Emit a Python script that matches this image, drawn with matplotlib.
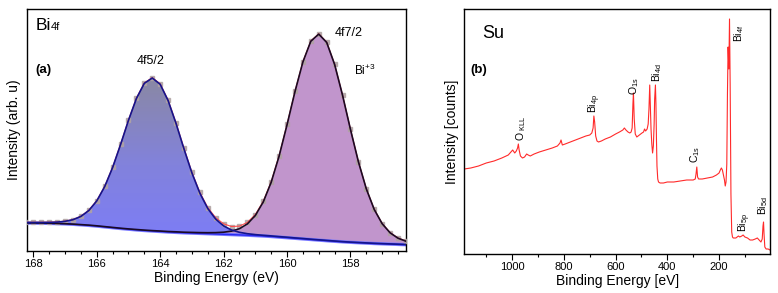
import numpy as np
import matplotlib
matplotlib.use("Agg")
import matplotlib.pyplot as plt
from matplotlib.colors import LinearSegmentedColormap
from matplotlib.ticker import MultipleLocator

plt.rcParams['font.family'] = ['Liberation Sans', 'DejaVu Sans']
plt.rcParams['mathtext.fontset'] = 'custom'
plt.rcParams['mathtext.rm'] = 'Liberation Sans'
plt.rcParams['mathtext.it'] = 'Liberation Sans:italic'
plt.rcParams['mathtext.bf'] = 'Liberation Sans:bold'
plt.rcParams['mathtext.default'] = 'regular'

# ---- (a) Bi 4f high resolution, 0.25 eV grid from 168.25 down to 156.25 eV
be_4f = [168.25, 168.0, 167.75, 167.5, 167.25, 167.0, 166.75, 166.5, 166.25, 166.0,
         165.75, 165.5, 165.25, 165.0, 164.75, 164.5, 164.25, 164.0, 163.75, 163.5,
         163.25, 163.0, 162.75, 162.5, 162.25, 162.0, 161.75, 161.5, 161.25, 161.0,
         160.75, 160.5, 160.25, 160.0, 159.75, 159.5, 159.25, 159.0, 158.75, 158.5,
         158.25, 158.0, 157.75, 157.5, 157.25, 157.0, 156.75, 156.5, 156.25]
shirley_bg = [28.0, 27.9, 27.8, 27.6, 27.4, 27.1, 26.7, 26.2, 25.6, 24.9,
              24.1, 23.3, 22.5, 21.8, 21.1, 20.5, 20.0, 19.5, 19.0, 18.6,
              18.2, 17.9, 17.6, 17.3, 17.0, 16.7, 16.4, 16.1, 15.8, 15.4,
              15.0, 14.5, 13.9, 13.3, 12.7, 12.1, 11.5, 10.9, 10.3, 9.7,
              9.2, 8.7, 8.3, 7.9, 7.5, 7.2, 6.9, 6.6, 6.3]
peak_4f52 = [0.5, 0.6, 0.7, 1.0, 1.5, 2.6, 4.6, 8.4, 14.9, 25.2,
             40.3, 60.2, 83.9, 108.9, 131.4, 147.2, 153.0, 147.2, 131.4, 108.9,
             83.9, 60.2, 40.3, 25.2, 14.9, 8.4, 4.6, 2.6, 1.5, 1.0,
             0.7, 0.6, 0.5, 0.5, 0.4, 0.4, 0.3, 0.3, 0.3, 0.3,
             0.2, 0.2, 0.2, 0.2, 0.2, 0.2, 0.2, 0.2, 0.2]
peak_4f72 = [0.2, 0.2, 0.2, 0.2, 0.2, 0.2, 0.2, 0.2, 0.3, 0.3,
             0.3, 0.3, 0.3, 0.3, 0.4, 0.4, 0.4, 0.5, 0.5, 0.6,
             0.6, 0.7, 0.8, 1.0, 1.4, 2.1, 3.5, 6.2, 11.3, 20.1,
             34.0, 54.2, 81.0, 112.9, 146.6, 176.9, 198.3, 206.0, 198.3, 176.9,
             146.6, 112.9, 81.0, 54.2, 34.0, 20.1, 11.3, 6.2, 3.5]

# ---- (b) survey spectrum
be_survey = [1185, 1160, 1130, 1100, 1070, 1040, 1015, 1005, 998, 990, 984, 979, 976, 973,
             968, 960, 952, 944, 938, 930, 915, 895, 870, 845, 825, 815, 811, 806, 795,
             775, 755, 735, 715, 700, 692, 687, 684, 681, 677, 672, 666, 655, 640, 620,
             600, 585, 572, 566, 560, 552, 545, 540, 536, 533, 531, 528, 524, 518, 508,
             498, 492, 488, 484, 478, 474, 471, 468, 466, 463, 460, 457, 454, 451, 449,
             446, 444, 442, 440, 437, 434, 428, 415, 400, 375, 350, 325, 300, 292, 289,
             286, 283, 279, 265, 245, 225, 210, 200, 195, 191, 187, 183, 179, 176, 173,
             170, 167.5, 165, 162, 159.5, 157, 154, 151, 148, 145, 135, 125, 120, 112,
             107, 100, 90, 80, 70, 60, 52, 45, 38, 33, 30, 28, 26, 23, 18, 10, 3]
counts_survey = [85, 86, 88, 91, 93, 96, 99, 102, 104, 101, 103, 106, 110, 104,
                 98, 96, 97, 100, 99, 98, 100, 102, 104, 106, 108, 111, 114, 109, 110,
                 112, 114, 116, 118, 119, 121, 126, 138, 132, 118, 113, 112, 113, 115, 117,
                 120, 122, 124, 126, 124, 122, 121, 122, 126, 150, 161, 135, 120, 117, 119,
                 121, 122, 125, 123, 125, 130, 145, 169, 150, 125, 110, 101, 108, 130, 155,
                 169, 150, 115, 88, 75, 72, 71, 71, 72, 72, 73, 74, 74, 75, 80,
                 87, 77, 75, 75, 76, 77, 79, 81, 84, 86, 84, 79, 74, 68, 72,
                 90, 160, 207, 185, 235, 170, 60, 22, 17, 16, 16, 18, 17, 18,
                 19, 17, 16, 14, 14, 15, 16, 14, 12, 15, 28, 32, 20, 7, 5, 5, 4]

survey_labels = ['O$_{\\ KLL}$', 'Bi$_{4p}$', 'O$_{1s}$', 'Bi$_{4d}$', 'Bi$_{4f}$',
                 'C$_{1s}$', 'Bi$_{5p}$', 'Bi$_{5d}$']
label_be = [967, 680, 530, 438, 124, 292, 101, 31]
label_y = [113, 141, 159, 172, 212, 91, 22, 39]

be = np.array(be_4f)
bg = np.array(shirley_bg)
p1 = np.array(peak_4f52)
p2 = np.array(peak_4f72)
envelope = bg + p1 + p2

fig = plt.figure(figsize=(7.78, 2.93), dpi=100)
ax1 = fig.add_axes([0.0347, 0.1433, 0.4871, 0.8259])
ax2 = fig.add_axes([0.5968, 0.1331, 0.3929, 0.8362])

# gradient fill for 4f5/2
poly = ax1.fill_between(be, bg, bg + p1, facecolor='none', edgecolor='none')
grad = LinearSegmentedColormap.from_list('g', ['#7c7cfa', '#8282dc', '#8a88a4'])
im = ax1.imshow(np.linspace(0, 1, 256).reshape(-1, 1), cmap=grad, origin='lower',
                extent=[be.max(), be.min(), 0, (bg + p1).max()], aspect='auto', zorder=1)
im.set_clip_path(poly.get_paths()[0], transform=ax1.transData)
ax1.fill_between(be, bg, bg + p2, color='#c195cc', zorder=1.2, lw=0)

ax1.plot(be, bg, color='#7878ff', lw=2.4, zorder=2)
ax1.plot(be, bg, color='#2828f0', lw=1.0, zorder=2.1)
ax1.plot(be, envelope, 's', ms=2.6, color='#b0a3a3', alpha=0.85, zorder=3)
ax1.plot(be, envelope, color='#ff4a4a', lw=0.8, zorder=3.5)
ax1.plot(be, bg + p2, color='#1a0a24', lw=1.2, zorder=4)
ax1.plot(be, bg + p1, color='#14148c', lw=1.2, zorder=4.2)

ax1.set_xlim(168.2, 156.25)
ax1.set_ylim(0, 242)
ax1.xaxis.set_major_locator(MultipleLocator(2))
ax1.xaxis.set_minor_locator(MultipleLocator(0.5))
ax1.set_yticks([])
ax1.set_xlabel('Binding Energy (eV)', fontsize=10, labelpad=1)
ax1.set_ylabel('Intensity (arb. u)', fontsize=10)

ax1.text(0.023, 0.913, 'Bi', transform=ax1.transAxes, fontsize=12.5, va='baseline')
ax1.text(0.063, 0.913, '4f', transform=ax1.transAxes, fontsize=8, va='baseline')
ax1.text(0.023, 0.748, '(a)', transform=ax1.transAxes, fontsize=9.5,
         fontweight='bold', va='center')
ax1.text(164.3, 190, '4f5/2', fontsize=9, ha='center', va='center')
ax1.text(158.07, 218, '4f7/2', fontsize=9, ha='center', va='center')
ax1.text(157.89, 176, 'Bi$^{+3}$', fontsize=8.5, ha='left', va='baseline')

# survey
ax2.plot(be_survey, counts_survey, color='#ff2a2a', lw=0.8)
for lab, xl, yl in zip(survey_labels, label_be, label_y):
    ax2.text(xl, yl, lab, rotation=90, fontsize=7.5, ha='center', va='bottom')

ax2.set_xlim(1185, 3)
ax2.set_ylim(0, 245)
ax2.xaxis.set_major_locator(MultipleLocator(200))
ax2.xaxis.set_minor_locator(MultipleLocator(100))
ax2.set_yticks([])
ax2.set_xlabel('Binding Energy [eV]', fontsize=10, labelpad=1)
ax2.set_ylabel('Intensity [counts]', fontsize=10)
ax2.text(0.057, 0.882, 'Su', transform=ax2.transAxes, fontsize=13, va='baseline')
ax2.text(0.019, 0.751, '(b)', transform=ax2.transAxes, fontsize=9.5,
         fontweight='bold', va='center')

for ax in (ax1, ax2):
    for sp in ax.spines.values():
        sp.set_linewidth(1.0)
    ax.tick_params(axis='x', which='major', direction='out', length=4, width=0.8,
                   labelsize=8, pad=2)
    ax.tick_params(axis='x', which='minor', direction='out', length=2.5, width=0.8)

fig.savefig('out.png', dpi=100)
